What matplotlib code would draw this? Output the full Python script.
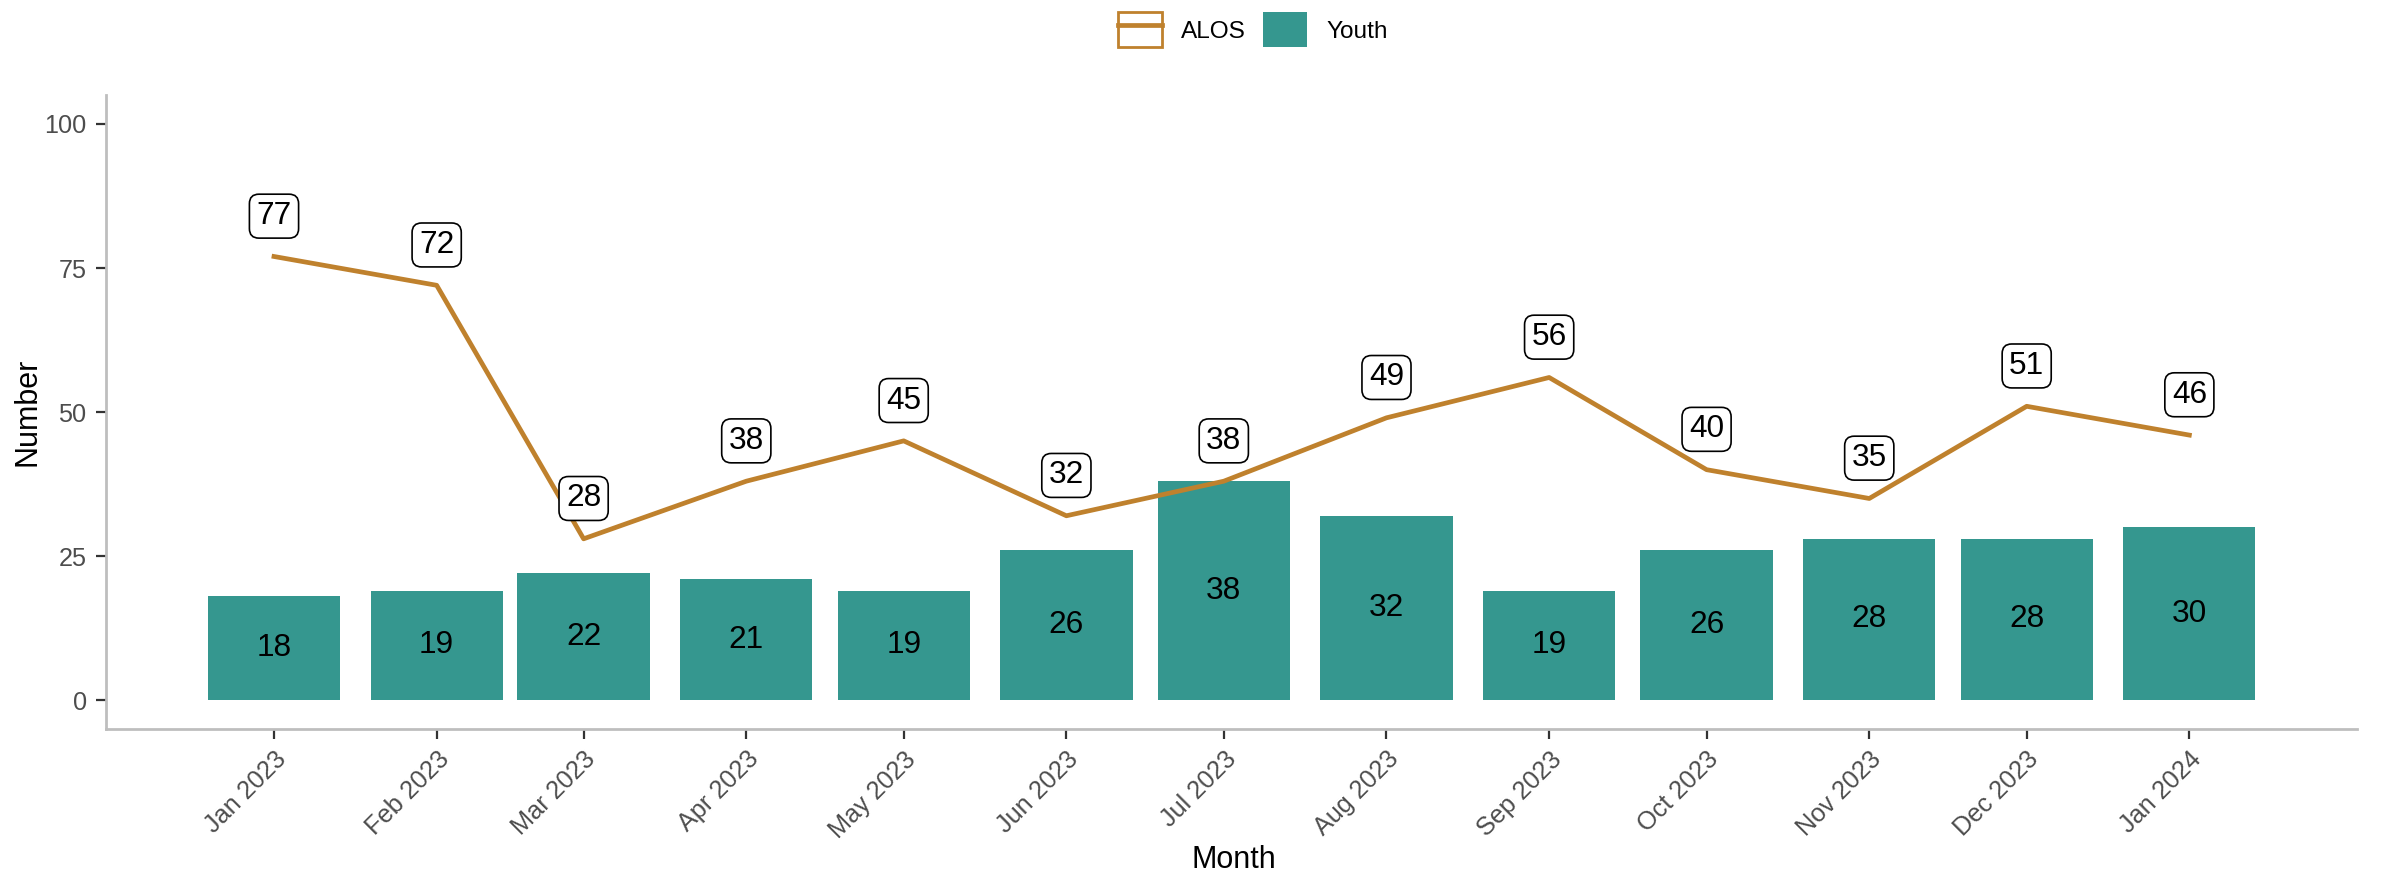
import pandas as pd
import matplotlib
matplotlib.use('Agg')
import matplotlib.pyplot as plt
import matplotlib.dates as mdates
from matplotlib.patches import Rectangle
from matplotlib.lines import Line2D
from matplotlib.legend_handler import HandlerTuple

month_labels = ['Jan 2023', 'Feb 2023', 'Mar 2023', 'Apr 2023', 'May 2023', 'Jun 2023',
                'Jul 2023', 'Aug 2023', 'Sep 2023', 'Oct 2023', 'Nov 2023', 'Dec 2023', 'Jan 2024']
youth = [18, 19, 22, 21, 19, 26, 38, 32, 19, 26, 28, 28, 30]
alos = [77, 72, 28, 38, 45, 32, 38, 49, 56, 40, 35, 51, 46]

bar_col = '#35978F'
line_col = '#BF812D'

plt.rcParams['font.family'] = ['Liberation Sans', 'DejaVu Sans']

months = pd.to_datetime(month_labels, format='%b %Y')

fig = plt.figure(figsize=(12, 4.365), dpi=200)
ax = fig.add_axes([0.0442, 0.165, 0.938, 0.726])

# bars + labels in the middle
ax.bar(months, youth, width=25.2, color=bar_col, zorder=2)
for d, v in zip(months, youth):
    ax.text(d, v / 2, str(v), ha='center', va='center', fontsize=11.4, color='black', zorder=4)

# line + boxed labels above the points
ax.plot(months, alos, color=line_col, lw=1.7, zorder=3)
for d, v in zip(months, alos):
    ax.text(d, v + 7, str(v), ha='center', va='center', fontsize=11.4, color='black', zorder=5,
            bbox=dict(boxstyle='round,pad=0.22,rounding_size=0.3', fc='white', ec='black', lw=0.6))

ax.set_ylim(-5, 105)
ax.set_yticks([0, 25, 50, 75, 100])
ax.set_xlim(months[0] - pd.Timedelta(days=32), months[-1] + pd.Timedelta(days=32))
ax.set_xticks(months)
ax.xaxis.set_major_formatter(mdates.DateFormatter('%b %Y'))
for lab in ax.get_xticklabels():
    lab.set_rotation(45)
    lab.set_ha('right')
    lab.set_va('top')
    lab.set_rotation_mode('anchor')

for s in ['top', 'right']:
    ax.spines[s].set_visible(False)
for s in ['left', 'bottom']:
    ax.spines[s].set_color('#BEBEBE')
    ax.spines[s].set_linewidth(1.0)
ax.tick_params(axis='both', colors='#333333', labelsize=9.1, length=3.5, width=0.8, labelcolor='#4D4D4D')
ax.tick_params(axis='x', pad=3)

ax.set_xlabel('Month', fontsize=11)
ax.xaxis.label.set_va('center')
ax.xaxis.set_label_coords(0.501, -0.206)
ax.set_ylabel('Number', fontsize=11)
ax.yaxis.label.set_va('center')
ax.yaxis.set_label_coords(-0.035, 0.5)

h_alos = (Rectangle((0, 0), 1, 1, fc='white', ec=line_col, lw=1.0), Line2D([0], [0], color=line_col, lw=1.7))
h_youth = Rectangle((0, 0), 1, 1, fc=bar_col, ec='none')
fig.legend([h_alos, h_youth], ['ALOS', 'Youth'], loc='center', bbox_to_anchor=(0.522, 0.966),
           ncol=2, frameon=False, fontsize=8.8, handlelength=1.8, handleheight=1.8,
           handletextpad=0.8, columnspacing=0.7, handler_map={tuple: HandlerTuple(ndivide=1)})

fig.savefig('out.png', dpi=200, facecolor='white')
